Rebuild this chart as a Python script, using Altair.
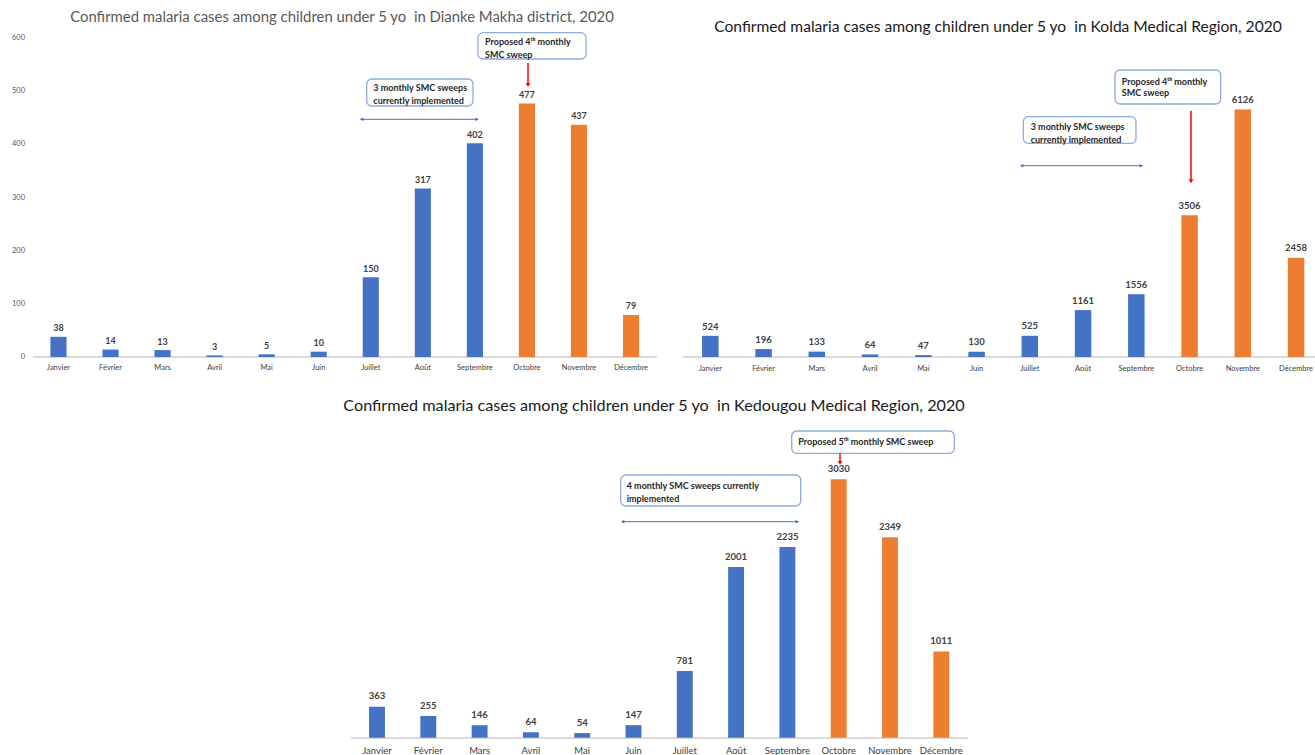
import altair as alt
import pandas as pd

# Monthly confirmed malaria cases among children under 5, 2020
months = ["Janvier", "Février", "Mars", "Avril", "Mai", "Juin", "Juillet",
          "Août", "Septembre", "Octobre", "Novembre", "Décembre"]
phases = ["current"] * 9 + ["after"] * 3
dianke_makha = [38, 14, 13, 3, 5, 10, 150, 317, 402, 477, 437, 79]
kolda = [524, 196, 133, 64, 47, 130, 525, 1161, 1556, 3506, 6126, 2458]
kedougou = [363, 255, 146, 64, 54, 147, 781, 2001, 2235, 3030, 2349, 1011]
dianke_ticks = [0, 100, 200, 300, 400, 500, 600]

FONT = "Lato"
BLUE = "#4472C4"
ORANGE = "#ED7D31"
BOX_STROKE = "#8FAADC"
TEXT_DARK = "#262626"

one = pd.DataFrame({"k": [0]})


def box(x1, x2, y1, y2):
    return alt.Chart(one).mark_rect(cornerRadius=5, fill="white",
                                    stroke=BOX_STROKE, strokeWidth=1.3).encode(
        x=alt.value(x1), x2=alt.value(x2), y=alt.value(y1), y2=alt.value(y2))


def note(x, y, txt, size=9):
    return alt.Chart(one).mark_text(text=txt, font=FONT, fontSize=size,
                                    fontWeight="bold", color=TEXT_DARK,
                                    align="left", baseline="middle").encode(
        x=alt.value(x), y=alt.value(y))


def span_arrow(x1, x2, y):
    line = alt.Chart(one).mark_rule(color=BLUE, strokeWidth=1).encode(
        x=alt.value(x1), x2=alt.value(x2), y=alt.value(y))
    left = alt.Chart(one).mark_point(shape="triangle-left", filled=True,
                                     color=BLUE, size=14, opacity=1).encode(
        x=alt.value(x1 + 1), y=alt.value(y))
    right = alt.Chart(one).mark_point(shape="triangle-right", filled=True,
                                      color=BLUE, size=14, opacity=1).encode(
        x=alt.value(x2 - 1), y=alt.value(y))
    return [line, left, right]


def drop_arrow(x, y1, y2):
    line = alt.Chart(one).mark_rule(color="#FF0000", strokeWidth=1.5).encode(
        x=alt.value(x), y=alt.value(y1), y2=alt.value(y2 - 2))
    head = alt.Chart(one).mark_point(shape="triangle-down", filled=True,
                                     color="#FF0000", size=22, opacity=1).encode(
        x=alt.value(x), y=alt.value(y2 - 2))
    return [line, head]


def title(x, y, txt, color, size):
    return alt.Chart(one).mark_text(text=txt, font=FONT, fontSize=size,
                                    color=color, align="center",
                                    baseline="middle").encode(
        x=alt.value(x), y=alt.value(y))


def panel(values, x_range, y_dom, y_rng, val_size, val_dy, month_size, month_dy,
          base_x, extras, ticks=None):
    df = pd.DataFrame({"mois": months, "cas": values, "phase": phases,
                       "zero": [0] * len(months)})
    x = alt.X("mois:N", sort=months,
              scale=alt.Scale(domain=months, range=x_range,
                              paddingInner=0.69, paddingOuter=0.345),
              axis=None)
    yscale = alt.Scale(domain=y_dom, range=y_rng)
    y = alt.Y("cas:Q", scale=yscale, axis=None)
    base = alt.Chart(df)
    baseline = base.mark_rule(color="#D9D9D9", strokeWidth=1).encode(
        x=alt.value(base_x[0]), x2=alt.value(base_x[1]),
        y=alt.Y("zero:Q", scale=yscale, axis=None))
    bars = base.mark_bar().encode(
        x=x, y=y,
        color=alt.Color("phase:N",
                        scale=alt.Scale(domain=["current", "after"],
                                        range=[BLUE, ORANGE]),
                        legend=None))
    vals = base.mark_text(font=FONT, fontSize=val_size, fontWeight="bold",
                          color="#404040", baseline="middle", dy=val_dy).encode(
        x=x, y=y, text=alt.Text("cas:Q", format="d"))
    mlab = base.mark_text(font=FONT, fontSize=month_size, color="#404040",
                          baseline="middle", dy=month_dy).encode(
        x=x, y=alt.Y("zero:Q", scale=yscale, axis=None), text="mois:N")
    layers = [baseline, bars, vals, mlab]
    if ticks is not None:
        tdf = pd.DataFrame({"cas": ticks})
        layers.append(alt.Chart(tdf).mark_text(
            font=FONT, fontSize=7.5, color="#595959", align="right",
            baseline="middle").encode(x=alt.value(25), y=y,
                                      text=alt.Text("cas:Q", format="d")))
    return alt.layer(*layers, *extras)


# Dianke Makha district
extras_dianke = [box(366.7, 473, 79, 106), box(478, 586, 32.7, 59),
                 note(373.3, 88.3, "3 monthly SMC sweeps"),
                 note(373.3, 101.2, "currently implemented"),
                 note(485, 42.3, "Proposed 4ᵗʰ monthly"),
                 note(485, 55, "SMC sweep"),
                 *span_arrow(360.7, 478, 119.3),
                 *drop_arrow(528, 63, 87),
                 title(342, 18.3,
                       "Confirmed malaria cases among children under 5 yo\u00a0 in Dianke Makha district, 2020",
                       "#595959", 14.9)]

# Kolda Medical Region
extras_kolda = [box(1023.3, 1136, 116.7, 143.3), box(1115, 1220.7, 70, 104),
                note(1030.7, 126.7, "3 monthly SMC sweeps"),
                note(1030.7, 140, "currently implemented"),
                note(1121.7, 81.7, "Proposed 4ᵗʰ monthly"),
                note(1121.7, 93.3, "SMC sweep"),
                *span_arrow(1020.7, 1142.3, 165.7),
                *drop_arrow(1191, 110.7, 183.3),
                title(998, 26.7,
                      "Confirmed malaria cases among children under 5 yo\u00a0 in Kolda Medical Region, 2020",
                      "#1a1a1a", 15.6)]

# Kedougou Medical Region
extras_kedougou = [box(620.7, 800.7, 475, 506), box(791.7, 954.3, 431, 453.3),
                   note(626.7, 486, "4 monthly SMC sweeps currently"),
                   note(626.7, 499, "implemented"),
                   note(798.3, 441.7, "Proposed 5ᵗʰ monthly SMC sweep"),
                   *span_arrow(621.7, 798.3, 521.7),
                   *drop_arrow(840, 453.3, 465),
                   title(654, 405.7,
                         "Confirmed malaria cases among children under 5 yo\u00a0 in Kedougou Medical Region, 2020",
                         "#1a1a1a", 16.2)]

p_dianke = panel(dianke_makha, [32.45, 657.05], [0, 600], [357, 38],
                 9, -8.5, 7.5, 11.3, (33, 657), extras_dianke, ticks=dianke_ticks)
p_kolda = panel(kolda, [683.7, 1322.7], [0, 7000], [357, 74.2],
                9.5, -9.3, 7.5, 12.3, (683, 1315), extras_kolda)
p_kedougou = panel(kedougou, [351.35, 966.95], [0, 3500], [737.7, 439.1],
                   9.5, -10.3, 9.5, 13, (351, 968), extras_kedougou)

chart = alt.layer(p_dianke, p_kolda, p_kedougou).resolve_scale(
    x="independent", y="independent"
).properties(
    width=1315, height=755, padding=0,
    autosize=alt.AutoSizeParams(type="none"),
    background="white",
).configure_view(stroke=None)

chart.save("out.html", embed_options={"renderer": "svg", "actions": False})
